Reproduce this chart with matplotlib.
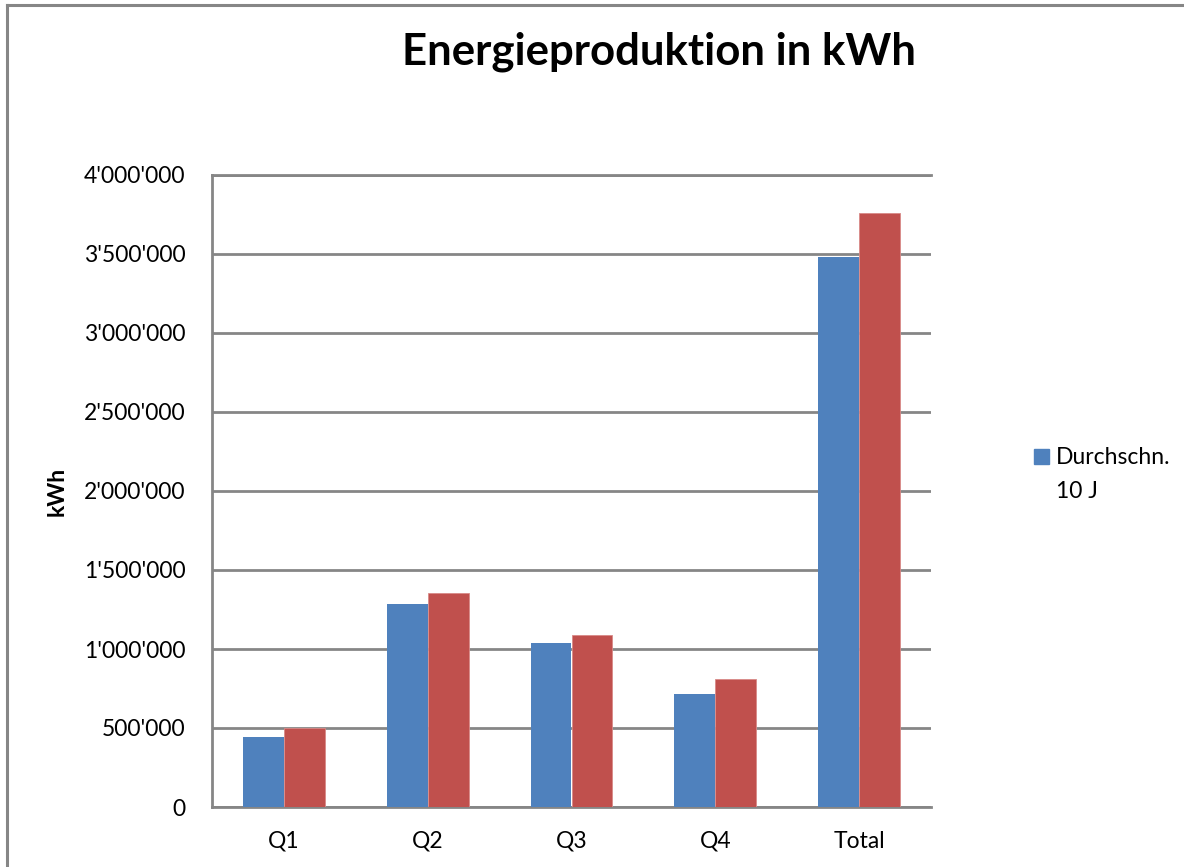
import matplotlib.pyplot as plt
import numpy as np
from matplotlib.lines import Line2D
from matplotlib.patches import Rectangle
from matplotlib.ticker import FuncFormatter, MultipleLocator

plt.rcParams['font.family'] = ['Lato', 'DejaVu Sans']

# Energieproduktion pro Quartal
quartale = ['Q1', 'Q2', 'Q3', 'Q4', 'Total']
durchschnitt_10j = [443000, 1285000, 1038000, 715000, 3481000]
aktuelles_jahr = [500000, 1354000, 1089000, 810000, 3759000]

blau = '#4F81BD'
rot = '#C0504D'
grau = '#868686'

W, H = 1184, 867
fig = plt.figure(figsize=(W / 100, H / 100), dpi=100)

# Rahmen des Diagrammbereichs (nur links und oben sichtbar)
fig.add_artist(Line2D([7 / W, 7 / W], [0, 1 - 5 / H], color=grau, lw=2.2))
fig.add_artist(Line2D([7 / W, 1], [1 - 5 / H, 1 - 5 / H], color=grau, lw=2.2))

ax = fig.add_axes([212 / W, (H - 807) / H, (931 - 212) / W, (807 - 175) / H])

x = np.arange(len(quartale))
b = 0.285
ax.bar(x - b / 2, durchschnitt_10j, width=b, color=blau, zorder=3)
ax.bar(x + b / 2, aktuelles_jahr, width=b, color=rot, edgecolor='#D88A88', linewidth=0.6, zorder=3)

ax.set_xlim(-0.5, len(quartale) - 0.5)
ax.set_ylim(0, 4000000)
ax.yaxis.set_major_locator(MultipleLocator(500000))
ax.yaxis.set_major_formatter(FuncFormatter(lambda v, p: f"{int(v):,}".replace(',', "'")))
ax.set_xticks(x)
ax.set_xticklabels(quartale)
ax.tick_params(length=0, labelsize=16.5)
ax.tick_params(axis='x', pad=17)
ax.tick_params(axis='y', pad=19)
ax.grid(axis='y', color=grau, lw=2, zorder=1)

ax.spines['right'].set_visible(False)
for s in ['left', 'bottom', 'top']:
    ax.spines[s].set_color(grau)
    ax.spines[s].set_linewidth(2)

ax.set_ylabel('kWh', fontsize=16.5, fontweight='bold', labelpad=12)

fig.text(659 / W, 1 - 52 / H, 'Energieproduktion in kWh', ha='center', va='center',
         fontsize=31.5, fontweight='bold')

# Legende: nur die erste Reihe
fig.add_artist(Rectangle((1034 / W, 1 - 464 / H), 15 / W, 15 / H, color=blau))
fig.text(1056 / W, 1 - 457 / H, 'Durchschn.', ha='left', va='center', fontsize=16.5)
fig.text(1056 / W, 1 - 491 / H, '10 J', ha='left', va='center', fontsize=16.5)

fig.savefig('out.png', dpi=100)
